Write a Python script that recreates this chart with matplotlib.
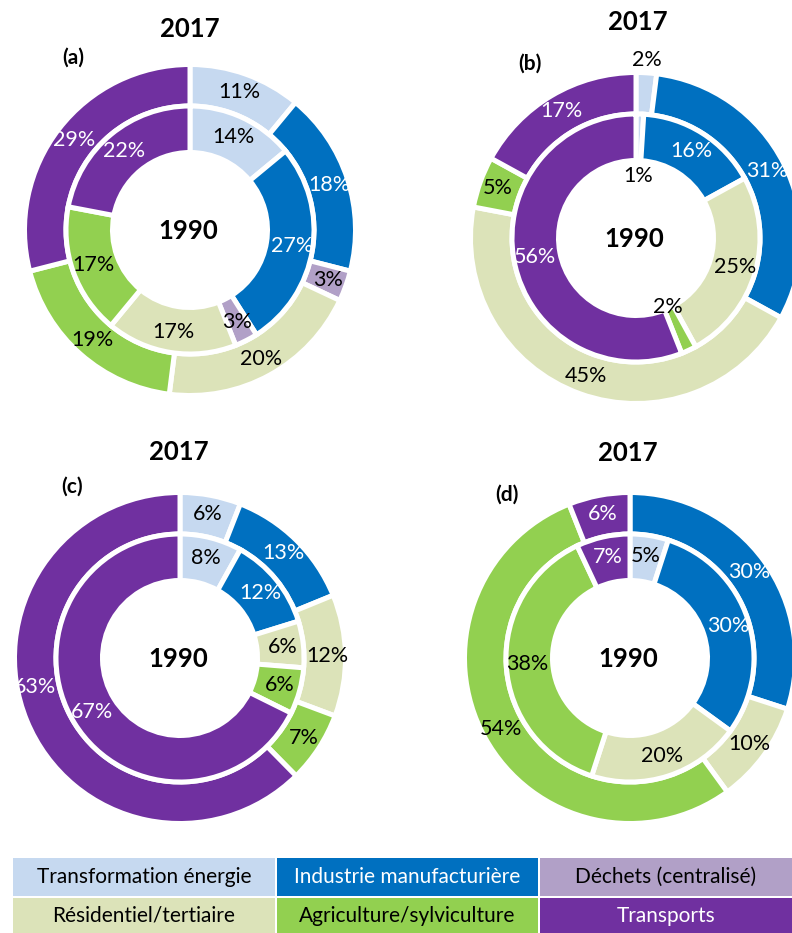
import matplotlib
matplotlib.use("Agg")
import matplotlib.pyplot as plt
from matplotlib.patches import Rectangle
import numpy as np

plt.rcParams['font.family'] = ['Lato', 'DejaVu Sans']

# ---------------- data ----------------
categories = ["Transformation énergie", "Industrie manufacturière", "Déchets (centralisé)",
              "Résidentiel/tertiaire", "Agriculture/sylviculture", "Transports"]
colors = ["#C6D9F0", "#0070C0", "#B1A0C7", "#DCE3B9", "#92D050", "#7030A0"]
text_colors = ["black", "white", "black", "black", "black", "white"]

panel_names = ["(a)", "(b)", "(c)", "(d)"]
outer_year = "2017"
inner_year = "1990"

a_2017 = [11, 18, 3, 20, 19, 29]
a_1990 = [14, 27, 3, 17, 17, 22]
b_2017 = [2, 31, 0, 45, 5, 17]
b_1990 = [1, 16, 0, 25, 2, 56]
c_2017 = [6, 13, 0, 12, 7, 63]
c_1990 = [8, 12, 0, 6, 6, 67]
d_2017 = [0, 30, 0, 10, 54, 6]
d_1990 = [5, 30, 0, 20, 38, 7]

values_2017 = [a_2017, b_2017, c_2017, d_2017]
values_1990 = [a_1990, b_1990, c_1990, d_1990]

# ---------------- layout (pixels, y from top) ----------------
W, H = 792, 933
centers = [(190, 230), (636, 238), (180, 658), (630, 658)]
title_pos = [(190, 29), (638, 22), (179, 452), (628, 453)]
tag_pos = [(73, 58), (530, 64), (72, 487), (507, 495)]
EDGE_PX = 5.0
R_OUT_VIS, R_OUT_IN_VIS = 163, 126.5
R_IN_VIS, R_HOLE_VIS = 121.5, 80
LAB_R_OUT, LAB_R_IN = 147, 103
# special label placements: (panel, ring, category index) -> (radius px, angle shift deg)
label_override = {
    (1, "out", 0): (178, 0),
    (1, "in", 0): (62, 0),
    (1, "in", 4): (76, 0),
    (2, "out", 5): (148, -11),
}

lw_pt = EDGE_PX * 72 / 100.0


def Y(y):
    return H - y


fig = plt.figure(figsize=(W / 100, H / 100), dpi=100)
ax = fig.add_axes([0, 0, 1, 1])

for p in range(4):
    cx, cy = centers[p][0], Y(centers[p][1])
    for ring, vals in (("out", values_2017[p]), ("in", values_1990[p])):
        idx = [i for i, v in enumerate(vals) if v > 0]
        v = [vals[i] for i in idx]
        c = [colors[i] for i in idx]
        if ring == "out":
            r = R_OUT_VIS + EDGE_PX / 2
            w = r - (R_OUT_IN_VIS - EDGE_PX / 2)
            lab_r = LAB_R_OUT
        else:
            r = R_IN_VIS + EDGE_PX / 2
            w = r - (R_HOLE_VIS - EDGE_PX / 2)
            lab_r = LAB_R_IN
        wedges, _ = ax.pie(v, colors=c, radius=r, center=(cx, cy), startangle=90,
                           counterclock=False,
                           wedgeprops=dict(width=w, edgecolor="white", linewidth=lw_pt))
        for wdg, i, val in zip(wedges, idx, v):
            mid = 0.5 * (wdg.theta1 + wdg.theta2)
            rr, shift = label_override.get((p, ring, i), (lab_r, 0))
            ang = np.deg2rad(mid + shift)
            ax.text(cx + rr * np.cos(ang), cy + rr * np.sin(ang), f"{val}%",
                    ha="center", va="center", fontsize=15.5, color=text_colors[i])
    ax.text(cx - 2, cy - 1, inner_year, ha="center", va="center", fontsize=18.5,
            fontweight="bold", color="black")
    ax.text(title_pos[p][0], Y(title_pos[p][1]), outer_year, ha="center", va="center",
            fontsize=18.5, fontweight="bold", color="black")
    ax.text(tag_pos[p][0], Y(tag_pos[p][1]), panel_names[p], ha="center", va="center",
            fontsize=15, fontweight="bold", color="black")

# ---------------- legend table ----------------
col_x = [13, 277, 540]
col_w = [262, 261, 252]
row_y = [858, 898]
row_h = [38, 35]
for k, name in enumerate(categories):
    rI, cI = divmod(k, 3)
    x0, y0 = col_x[cI], row_y[rI]
    ax.add_patch(Rectangle((x0, Y(y0 + row_h[rI])), col_w[cI], row_h[rI],
                           facecolor=colors[k], edgecolor="none"))
    ax.text(x0 + col_w[cI] / 2, Y(y0 + row_h[rI] / 2), name, ha="center", va="center",
            fontsize=15, color=text_colors[k])

ax.set_xlim(0, W)
ax.set_ylim(0, H)
ax.set_aspect("equal")
ax.axis("off")
fig.savefig("out.png", dpi=100)
